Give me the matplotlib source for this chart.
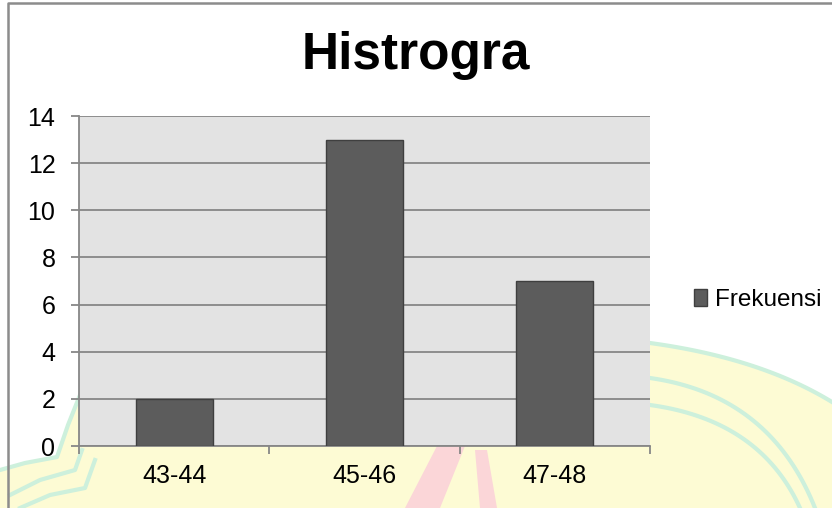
import numpy as np
import matplotlib.pyplot as plt
from matplotlib.patches import Polygon
from matplotlib.lines import Line2D

# data
categories = ['43-44', '45-46', '47-48']
frekuensi = [2, 13, 7]
series_name = 'Frekuensi'
title = 'Histrogra'
y_ticks = [0, 2, 4, 6, 8, 10, 12, 14]

W, H = 832, 508
plt.rcParams['font.family'] = ['Liberation Sans', 'DejaVu Sans']

fig = plt.figure(figsize=(W / 100, H / 100), dpi=100, facecolor='white')


def px(x, y):
    """pixel (from top-left) -> figure fraction"""
    return (x / W, 1 - y / H)


def bez(p0, p1, p2, n=40):
    t = np.linspace(0, 1, n)[:, None]
    p0, p1, p2 = map(np.array, (p0, p1, p2))
    return (1 - t) ** 2 * p0 + 2 * (1 - t) * t * p1 + t ** 2 * p2


# faint watermark in the background (behind the axes)
yellow = [(0, 470), (25, 463), (57, 457), (68, 425), (80, 395), (250, 365),
          (450, 348), (650, 343)]
yellow += [tuple(p) for p in bez((650, 343), (760, 358), (832, 402))]
yellow += [(832, 508), (0, 508)]
fig.patches.append(Polygon([px(*p) for p in yellow], closed=True,
                           transform=fig.transFigure, facecolor='#fdfbd4',
                           edgecolor='none', zorder=-3))
green = '#cdf0dc'
arcs = [bez((650, 343), (760, 358), (832, 402)),
        bez((650, 378), (770, 395), (815, 508)),
        bez((650, 405), (760, 420), (800, 508)),
        np.array([(0, 470), (25, 463), (57, 457), (68, 425), (80, 395)]),
        np.array([(10, 495), (40, 480), (75, 470), (82, 450)]),
        np.array([(20, 508), (50, 495), (85, 488), (95, 460)])]
for a in arcs:
    xy = np.array([px(*p) for p in a])
    fig.lines.append(Line2D(xy[:, 0], xy[:, 1], transform=fig.transFigure,
                            color=green, lw=3, zorder=-2))
pinks = [[(437, 446), (465, 446), (440, 508), (405, 508)],
         [(475, 450), (487, 450), (497, 508), (480, 508)]]
for pk in pinks:
    fig.patches.append(Polygon([px(*p) for p in pk], closed=True,
                               transform=fig.transFigure, facecolor='#fbd6d8',
                               edgecolor='none', zorder=-1.5))

# outer chart border
fig.lines.append(Line2D([8 / W, 8 / W, 1], [0, 1 - 3 / H, 1 - 3 / H],
                        transform=fig.transFigure, color='#8c8c8c', lw=1.8,
                        zorder=-1))

# plot area
x0, x1, ytop, ybot = 79, 650, 116, 446
ax = fig.add_axes([x0 / W, 1 - ybot / H, (x1 - x0) / W, (ybot - ytop) / H])
ax.set_facecolor('#e3e3e3')
ax.set_axisbelow(True)

x = np.arange(len(categories))
ax.bar(x, frekuensi, width=0.405, color='#5c5c5c', edgecolor='#3f3f3f',
       linewidth=1.0, label=series_name, zorder=3)

ax.set_xlim(-0.5, len(categories) - 0.5)
ax.set_ylim(0, 14)
ax.set_yticks(y_ticks)
ax.yaxis.grid(True, color='#878787', lw=1.3)

ax.set_xticks(x)
ax.set_xticklabels(categories)
ax.set_xticks(np.arange(len(categories) + 1) - 0.5, minor=True)
ax.tick_params(axis='x', which='major', length=0, pad=13, labelsize=18)
ax.tick_params(axis='x', which='minor', length=6, width=1.3, color='#878787',
               direction='out')
ax.tick_params(axis='y', length=6, width=1.3, color='#878787', pad=11,
               labelsize=18)

for s in ['top', 'right']:
    ax.spines[s].set_visible(False)
for s in ['left', 'bottom']:
    ax.spines[s].set_color('#878787')
    ax.spines[s].set_linewidth(1.3)

fig.text(416 / W, 1 - 56 / H, title, ha='center', va='center',
         fontsize=37, fontweight='bold')

ax.legend(loc='center left', bbox_to_anchor=px(694, 300),
          bbox_transform=fig.transFigure, frameon=False, fontsize=17.5,
          handlelength=0.55, handleheight=0.7, handletextpad=0.3,
          borderpad=0, borderaxespad=0)

fig.savefig('out.png', dpi=100, facecolor='white')
